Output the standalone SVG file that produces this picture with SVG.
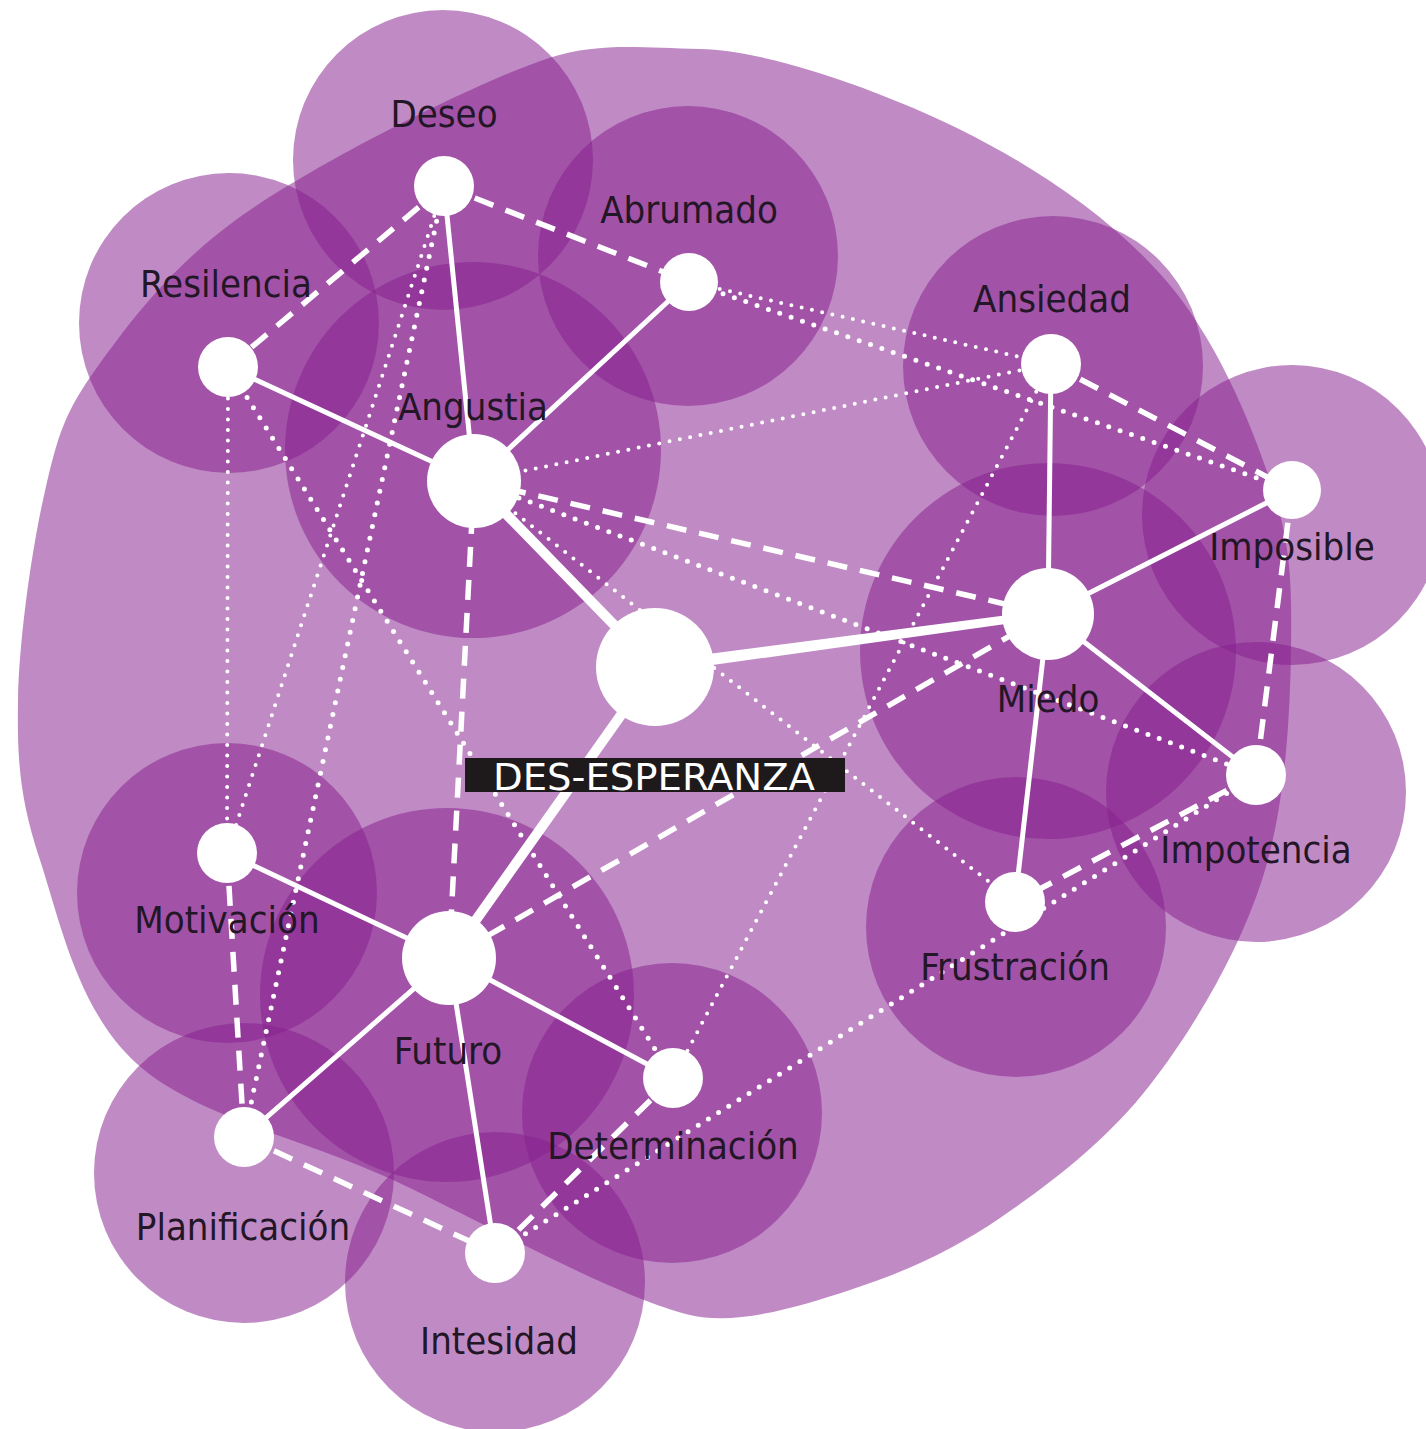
<svg xmlns="http://www.w3.org/2000/svg" width="1426" height="1429" viewBox="0 0 1426 1429">
<style>
.bg{fill:#86208e;fill-opacity:0.52}
.halo{fill:#86208e;fill-opacity:0.52}
.solid{stroke:#fff;stroke-width:5;fill:none;stroke-linecap:round}
.thick{stroke:#fff;stroke-width:10;fill:none;stroke-linecap:round}
.dash{stroke:#fff;stroke-width:5.5;fill:none;stroke-dasharray:20 13}
.dot{stroke:#fff;stroke-width:5;fill:none;stroke-linecap:round;stroke-dasharray:0 12}
.dotf{stroke:#fff;stroke-width:4;fill:none;stroke-linecap:round;stroke-dasharray:0 10.5}
.node{fill:#fff}
.lbl{font-family:'DejaVu Sans Condensed','DejaVu Sans',sans-serif;font-stretch:condensed;font-size:38px;fill:#231626;text-anchor:middle}
.title{font-family:'DejaVu Sans Condensed','DejaVu Sans',sans-serif;font-stretch:condensed;font-size:37px;fill:#fff;text-anchor:middle}
</style>
<rect width="1426" height="1429" fill="#fff"/>
<g id="background">
<path class="bg" d="M700,49 C768,50 882,91 959,129 C1036,167 1111,218 1163,277 C1215,336 1249,418 1270,480 C1291,542 1292,583 1291,650 C1290,717 1285.5,807.5 1262,880 C1238.5,952.5 1193.7,1028.7 1150,1085 C1106.3,1141.3 1050,1183.8 1000,1218 C950,1252.2 901.7,1273 850,1290 C798.3,1307 736,1326 690,1315 C613,1296 483,1222 391,1179 C298.7,1137 194.5,1116.2 136,1063 C78,1010 60,921 40,860 C20,800 17,761 18,700 C19,639 32,547 45,491 C58,435 64,413 98,366 C132,319 175,261 250,210 C325,159 474,83 549,58 C600,42 640,48 700,49 Z"/>
</g>
<g id="halos">
<circle class="halo" cx="443" cy="160" r="150"/>
<circle class="halo" cx="688" cy="256" r="150"/>
<circle class="halo" cx="229" cy="323" r="150"/>
<circle class="halo" cx="473" cy="450" r="188"/>
<circle class="halo" cx="1053" cy="366" r="150"/>
<circle class="halo" cx="1292" cy="515" r="150"/>
<circle class="halo" cx="1048" cy="651" r="188"/>
<circle class="halo" cx="1256" cy="792" r="150"/>
<circle class="halo" cx="1016" cy="927" r="150"/>
<circle class="halo" cx="227" cy="893" r="150"/>
<circle class="halo" cx="447" cy="995" r="187"/>
<circle class="halo" cx="672" cy="1113" r="150"/>
<circle class="halo" cx="244" cy="1173" r="150"/>
<circle class="halo" cx="495" cy="1282" r="150"/>
</g>
<g id="connectors">
<line class="dotf" x1="444" y1="186" x2="227" y2="853"/>
<line class="dot" x1="444" y1="186" x2="244" y2="1137"/>
<line class="dotf" x1="228" y1="367" x2="227" y2="853"/>
<line class="dot" x1="228" y1="367" x2="673" y2="1078"/>
<line class="dotf" x1="689" y1="282" x2="1051" y2="364"/>
<line class="dot" x1="689" y1="282" x2="1292" y2="490"/>
<line class="dotf" x1="474" y1="481" x2="1051" y2="364"/>
<line class="dot" x1="474" y1="481" x2="1256" y2="775"/>
<line class="dotf" x1="474" y1="481" x2="1015" y2="902"/>
<line class="dotf" x1="1051" y1="364" x2="673" y2="1078"/>
<line class="dot" x1="495" y1="1253" x2="1256" y2="775"/>
<line class="dash" x1="444" y1="186" x2="228" y2="367"/>
<line class="dash" x1="444" y1="186" x2="689" y2="282"/>
<line class="dash" x1="474" y1="481" x2="449" y2="958"/>
<line class="dash" x1="474" y1="481" x2="1048" y2="614"/>
<line class="dash" x1="1051" y1="364" x2="1292" y2="490"/>
<line class="dash" x1="1292" y1="490" x2="1256" y2="775"/>
<line class="dash" x1="1256" y1="775" x2="1015" y2="902"/>
<line class="dash" x1="1048" y1="614" x2="449" y2="958"/>
<line class="dash" x1="227" y1="853" x2="244" y2="1137"/>
<line class="dash" x1="244" y1="1137" x2="495" y2="1253"/>
<line class="dash" x1="495" y1="1253" x2="673" y2="1078"/>
<line class="solid" x1="444" y1="186" x2="474" y2="481"/>
<line class="solid" x1="689" y1="282" x2="474" y2="481"/>
<line class="solid" x1="228" y1="367" x2="474" y2="481"/>
<line class="solid" x1="1051" y1="364" x2="1048" y2="614"/>
<line class="solid" x1="1048" y1="614" x2="1292" y2="490"/>
<line class="solid" x1="1048" y1="614" x2="1256" y2="775"/>
<line class="solid" x1="1048" y1="614" x2="1015" y2="902"/>
<line class="solid" x1="227" y1="853" x2="449" y2="958"/>
<line class="solid" x1="449" y1="958" x2="244" y2="1137"/>
<line class="solid" x1="449" y1="958" x2="495" y2="1253"/>
<line class="solid" x1="449" y1="958" x2="673" y2="1078"/>
<line class="thick" x1="474" y1="481" x2="655" y2="667"/>
<polygon fill="#fff" points="655.8,673 654.2,661 1047.5,610 1048.5,618"/>
<line class="thick" x1="655" y1="667" x2="449" y2="958" stroke-width="9"/>
</g>
<g id="node-deseo"><circle class="node" cx="444" cy="186" r="30"/><text class="lbl" x="444" y="127">Deseo</text></g>
<g id="node-abrumado"><circle class="node" cx="689" cy="282" r="29"/><text class="lbl" x="689" y="223">Abrumado</text></g>
<g id="node-resilencia"><circle class="node" cx="228" cy="367" r="30"/><text class="lbl" x="226" y="297">Resilencia</text></g>
<g id="node-angustia"><circle class="node" cx="474" cy="481" r="47"/><text class="lbl" x="473" y="420">Angustia</text></g>
<g id="node-ansiedad"><circle class="node" cx="1051" cy="364" r="30"/><text class="lbl" x="1052" y="312">Ansiedad</text></g>
<g id="node-imposible"><circle class="node" cx="1292" cy="490" r="29"/><text class="lbl" x="1292" y="560">Imposible</text></g>
<g id="node-miedo"><circle class="node" cx="1048" cy="614" r="46"/><text class="lbl" x="1048" y="712">Miedo</text></g>
<g id="node-impotencia"><circle class="node" cx="1256" cy="775" r="30"/><text class="lbl" x="1256" y="863">Impotencia</text></g>
<g id="node-frustracion"><circle class="node" cx="1015" cy="902" r="30"/><text class="lbl" x="1015" y="980">Frustración</text></g>
<g id="node-motivacion"><circle class="node" cx="227" cy="853" r="30"/><text class="lbl" x="227" y="933">Motivación</text></g>
<g id="node-futuro"><circle class="node" cx="449" cy="958" r="47"/><text class="lbl" x="448" y="1064">Futuro</text></g>
<g id="node-determinacion"><circle class="node" cx="673" cy="1078" r="30"/><text class="lbl" x="673" y="1159">Determinación</text></g>
<g id="node-planificacion"><circle class="node" cx="244" cy="1137" r="30"/><text class="lbl" x="243" y="1240">Planificación</text></g>
<g id="node-intesidad"><circle class="node" cx="495" cy="1253" r="30"/><text class="lbl" x="499" y="1354">Intesidad</text></g>
<g id="node-desesperanza"><circle class="node" cx="655" cy="667" r="59"/><rect x="465" y="758" width="380" height="34" fill="#1e1a1c"/><text class="title" x="654" y="790" textLength="322" lengthAdjust="spacingAndGlyphs">DES-ESPERANZA</text></g>
</svg>
